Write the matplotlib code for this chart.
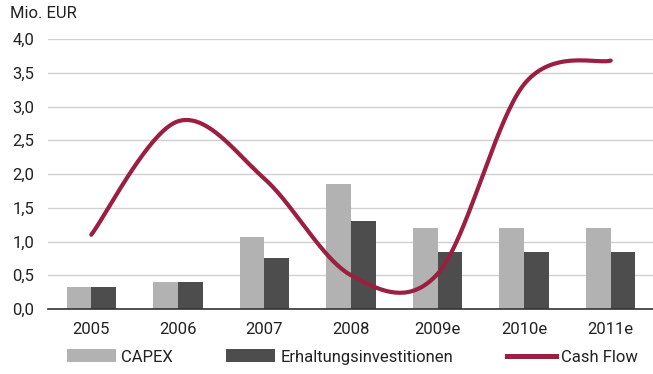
import numpy as np
import matplotlib
matplotlib.use("Agg")
import matplotlib.pyplot as plt
from matplotlib.patches import Patch
from matplotlib.lines import Line2D

# Data (Mio. EUR)
years = ["2005", "2006", "2007", "2008", "2009e", "2010e", "2011e"]
capex = [0.32, 0.40, 1.07, 1.85, 1.20, 1.20, 1.20]
erhaltung = [0.32, 0.40, 0.75, 1.30, 0.85, 0.85, 0.85]
cash_flow = [1.10, 2.78, 1.93, 0.50, 0.52, 3.33, 3.68]

yticks = [0.0, 0.5, 1.0, 1.5, 2.0, 2.5, 3.0, 3.5, 4.0]
ytick_labels = ["0,0", "0,5", "1,0", "1,5", "2,0", "2,5", "3,0", "3,5", "4,0"]

C_CAPEX = "#b2b2b2"
C_ERH = "#4d4d4d"
C_CF = "#9b1f40"
C_TEXT = "#222222"
FS = 12

plt.rcParams["font.family"] = ["Roboto", "DejaVu Sans"]
plt.rcParams["font.size"] = FS

W, H = 653, 374
fig = plt.figure(figsize=(W / 100, H / 100), dpi=100)
left, right, top, bottom = 48, 654, 39, 309
ax = fig.add_axes([left / W, 1 - bottom / H, (right - left) / W, (bottom - top) / H])

x = np.arange(len(years))
bw = 0.285
ax.bar(x - bw / 2, capex, width=bw, color=C_CAPEX, zorder=2)
ax.bar(x + bw / 2, erhaltung, width=bw, color=C_ERH, zorder=2)


def smooth_curve(xs, ys, samples=40):
    """Catmull-Rom style cubic Bezier through all points."""
    P = np.column_stack([xs, ys]).astype(float)
    n = len(P)
    out = []
    t = np.linspace(0, 1, samples)[:, None]
    for i in range(n - 1):
        p0 = P[i - 1] if i > 0 else P[i]
        p1 = P[i]
        p2 = P[i + 1]
        p3 = P[i + 2] if i + 2 < n else P[i + 1]
        c1 = p1 + (p2 - p0) / 6.0
        c2 = p2 - (p3 - p1) / 6.0
        seg = ((1 - t) ** 3) * p1 + 3 * ((1 - t) ** 2) * t * c1 + 3 * (1 - t) * t ** 2 * c2 + t ** 3 * p2
        out.append(seg if i == 0 else seg[1:])
    return np.vstack(out)


curve = smooth_curve(x, cash_flow)
ax.plot(curve[:, 0], curve[:, 1], color=C_CF, lw=3.0, solid_capstyle="round", zorder=3)

ax.set_xlim(-0.5, len(years) - 0.5)
ax.set_ylim(0, 4.0)
ax.set_yticks(yticks)
ax.set_yticklabels(ytick_labels)
ax.set_xticks(x)
ax.set_xticklabels(years)
ax.tick_params(axis="both", length=0, colors=C_TEXT, labelsize=FS)
ax.tick_params(axis="x", pad=9)
ax.tick_params(axis="y", pad=10)
ax.grid(axis="y", color="#d0d0d0", lw=1.0, zorder=0)
ax.set_axisbelow(True)
for s in ["top", "right", "left"]:
    ax.spines[s].set_visible(False)
ax.spines["bottom"].set_color("#333333")
ax.spines["bottom"].set_linewidth(1.2)
ax.spines["bottom"].set_zorder(4)

fig.text(10 / W, 1 - 14 / H, "Mio. EUR", ha="left", va="center", fontsize=FS, color=C_TEXT)

handles = [
    Patch(facecolor=C_CAPEX, label="CAPEX"),
    Patch(facecolor=C_ERH, label="Erhaltungsinvestitionen"),
    Line2D([0], [0], color=C_CF, lw=3.6, label="Cash Flow"),
]
fig.legend(handles=handles, loc="center left", bbox_to_anchor=(67 / W, 1 - 357 / H),
           ncol=3, frameon=False, fontsize=FS, handlelength=2.95, handleheight=0.8,
           handletextpad=0.3, columnspacing=3.2, borderpad=0, borderaxespad=0,
           labelcolor=C_TEXT)

fig.savefig("out.png", dpi=100)
